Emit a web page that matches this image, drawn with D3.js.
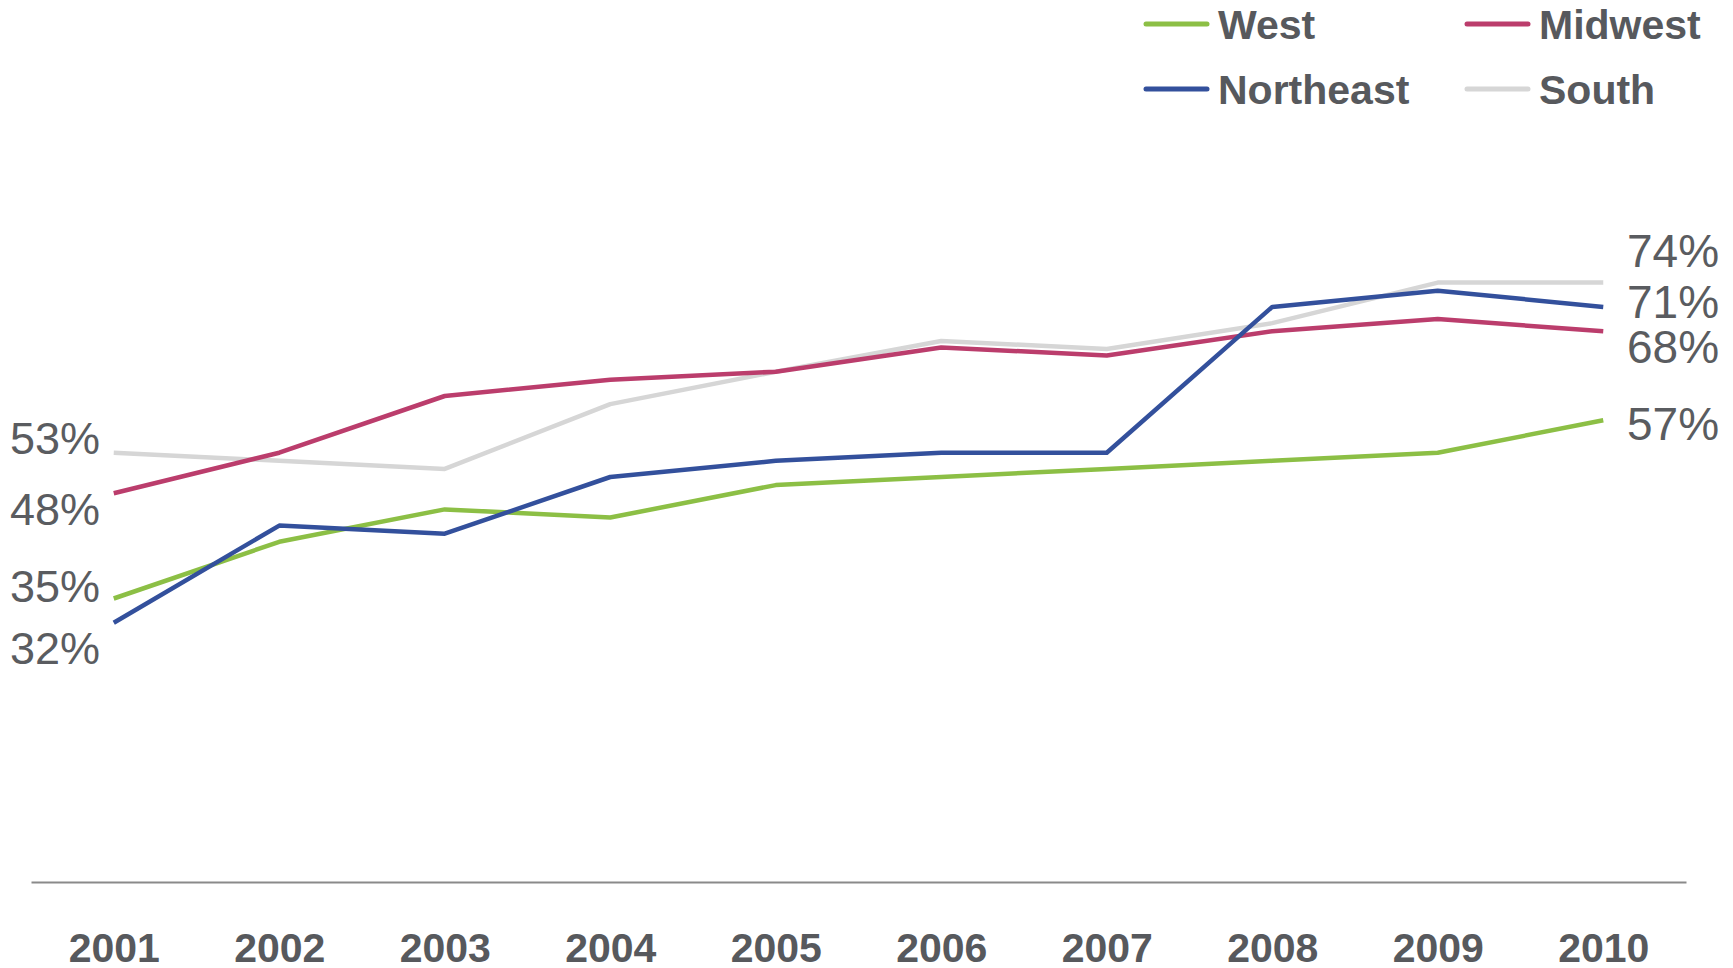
<!DOCTYPE html>
<html>
<head>
<meta charset="utf-8">
<script src="https://cdn.jsdelivr.net/npm/d3@7"></script>
<style>
  html, body { margin: 0; padding: 0; background: #ffffff; }
  svg { display: block; }
</style>
</head>
<body>
<svg id="chart" width="1733" height="968"></svg>
<script>
const years = ["2001","2002","2003","2004","2005","2006","2007","2008","2009","2010"];
const west      = [35, 42, 46, 45, 49, 50, 51, 52, 53, 57];
const midwest   = [48, 53, 60, 62, 63, 66, 65, 68, 69.5, 68];
const northeast = [32, 44, 43, 50, 52, 53, 53, 71, 73, 71];
const south     = [53, 52, 51, 59, 63, 66.8, 65.8, 69, 74, 74];
const seriesNames = ["West", "Midwest", "Northeast", "South"];

const colors = { West: "#8cbf45", Midwest: "#bb3d6c", Northeast: "#33509c", South: "#d6d6d6" };
const seriesMap = { West: west, Midwest: midwest, Northeast: northeast, South: south };

const svg = d3.select("#chart");
const x = d3.scalePoint().domain(years).range([31, 1686]).padding(0.5);
const y = d3.scaleLinear().domain([0, 100]).range([882, 72]);

// axis
const axis = svg.append("g")
  .attr("transform", "translate(0,882)")
  .call(d3.axisBottom(x).tickSize(0).tickSizeOuter(0).tickPadding(51));
axis.select(".domain").attr("stroke", "#8a8a8a").attr("stroke-width", 2);
axis.selectAll("text")
  .attr("font-family", "Liberation Sans, Arial, sans-serif")
  .attr("font-size", 41)
  .attr("font-weight", "bold")
  .attr("fill", "#57595d");

const line = d3.line().x((d, i) => x(years[i])).y(d => y(d));

const drawOrder = ["South", "West", "Midwest", "Northeast"];
drawOrder.forEach(name => {
  svg.append("path")
    .datum(seriesMap[name])
    .attr("d", line)
    .attr("fill", "none")
    .attr("stroke", colors[name])
    .attr("stroke-width", 4.5)
    .attr("stroke-linejoin", "round");
});

// end labels (layout offsets to avoid overlap)
const leftOffsets = { South: 1, Midwest: 32, West: 3, Northeast: 41 };
const rightOffsets = { South: -16, Northeast: 11, Midwest: 32, West: 20 };
const labelFont = "Liberation Sans, Arial, sans-serif";
seriesNames.forEach(name => {
  const vals = seriesMap[name];
  svg.append("text")
    .attr("x", 10)
    .attr("y", y(vals[0]) + leftOffsets[name])
    .attr("font-family", labelFont)
    .attr("font-size", 45)
    .attr("fill", "#5a5c60")
    .text(d3.format(".0f")(vals[0]) + "%");
  svg.append("text")
    .attr("x", 1627)
    .attr("y", y(vals[vals.length - 1]) + rightOffsets[name])
    .attr("font-family", labelFont)
    .attr("font-size", 46)
    .attr("fill", "#5a5c60")
    .text(d3.format(".0f")(vals[vals.length - 1]) + "%");
});

// legend
const legendItems = [
  { name: "West", lx: 1146, ly: 24 },
  { name: "Midwest", lx: 1467, ly: 24 },
  { name: "Northeast", lx: 1146, ly: 89 },
  { name: "South", lx: 1467, ly: 89 }
];
const lg = svg.append("g");
legendItems.forEach(it => {
  lg.append("line")
    .attr("x1", it.lx).attr("x2", it.lx + 61)
    .attr("y1", it.ly).attr("y2", it.ly)
    .attr("stroke", colors[it.name])
    .attr("stroke-width", 5)
    .attr("stroke-linecap", "round");
  lg.append("text")
    .attr("x", it.lx + 72)
    .attr("y", it.ly + 15)
    .attr("font-family", labelFont)
    .attr("font-size", 41)
    .attr("font-weight", "bold")
    .attr("fill", "#57595d")
    .text(it.name);
});
</script>
</body>
</html>
